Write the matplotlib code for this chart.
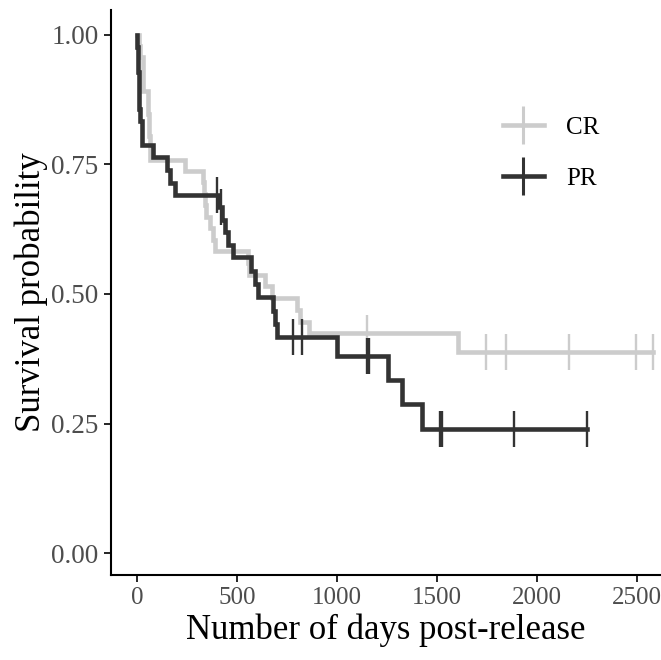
import matplotlib
matplotlib.use("Agg")
import matplotlib.pyplot as plt
from matplotlib.lines import Line2D
import numpy as np

plt.rcParams['font.family'] = ['Liberation Serif', 'DejaVu Serif']

# Kaplan-Meier step values (day at which survival drops, new survival)
cr_times = [0, 10, 15, 28, 30, 32, 55, 57, 59, 61, 63, 65, 240, 330, 335, 340, 345,
            365, 380, 390, 555, 560, 640, 675, 800, 815, 860, 1605]
cr_surv = [1.0, 0.978, 0.957, 0.935, 0.913, 0.891, 0.870, 0.848, 0.826, 0.804, 0.783,
           0.759, 0.737, 0.715, 0.693, 0.671, 0.649, 0.627, 0.605, 0.582, 0.560, 0.537,
           0.515, 0.492, 0.469, 0.446, 0.425, 0.388]
cr_censor = [1150, 1745, 1845, 2160, 2495, 2580]

pr_times = [0, 2, 4, 6, 8, 10, 12, 15, 25, 80, 150, 165, 190, 405, 425, 440, 455,
            480, 570, 590, 605, 680, 690, 700, 1000, 1255, 1325, 1425]
pr_surv = [1.0, 0.976, 0.952, 0.929, 0.905, 0.881, 0.857, 0.833, 0.788, 0.764,
           0.740, 0.714, 0.690, 0.667, 0.643, 0.619, 0.595, 0.571, 0.545, 0.519, 0.494,
           0.468, 0.442, 0.416, 0.380, 0.334, 0.287, 0.240]
pr_censor = [400, 420, 780, 825, 1148, 1158, 1515, 1526, 1885, 2250]

groups = ['CR', 'PR']
colors = {'CR': '#cccccc', 'PR': '#333333'}


def surv_at(times, surv, t):
    idx = np.searchsorted(times, t, side='right') - 1
    return np.array(surv)[idx]


fig = plt.figure(figsize=(6.61, 6.60), dpi=100)
ax = fig.add_axes([0.168, 0.129, 0.832, 0.856])

data = {
    'CR': (cr_times, cr_surv, cr_censor),
    'PR': (pr_times, pr_surv, pr_censor),
}
for g in groups:
    t, s, c = data[g]
    tt = list(t) + [max(c)]
    ss = list(s) + [s[-1]]
    ax.step(tt, ss, where='post', color=colors[g], lw=3.3, solid_joinstyle='miter')
    ax.plot(c, surv_at(t, s, c), ls='none', marker='|', ms=26, mew=1.7, color=colors[g])

ax.set_xlim(-130, 2620)
ax.set_ylim(-0.042, 1.048)
ax.set_xticks([0, 500, 1000, 1500, 2000, 2500])
ax.set_yticks([0, 0.25, 0.5, 0.75, 1.0])
ax.set_yticklabels(['0.00', '0.25', '0.50', '0.75', '1.00'])
for side in ['top', 'right']:
    ax.spines[side].set_visible(False)
for side in ['left', 'bottom']:
    ax.spines[side].set_linewidth(1.5)
    ax.spines[side].set_color('black')
ax.tick_params(length=5, width=1.2, pad=4, colors='black', labelcolor='#4d4d4d')
ax.tick_params(axis='x', labelsize=18)
ax.tick_params(axis='y', labelsize=19.5)
ax.set_xlabel('Number of days post-release', fontsize=25, labelpad=3)
ax.set_ylabel('Survival probability', fontsize=25, labelpad=2)

handles = [Line2D([], [], color=colors[g], lw=3.3, marker='|', ms=27, mew=2.2) for g in groups]
ax.legend(handles, groups, loc='upper left', bbox_to_anchor=(0.671, 0.852), frameon=False,
          fontsize=18, handlelength=1.65, handletextpad=0.9, labelspacing=1.15)

fig.savefig('out.png', dpi=100)
